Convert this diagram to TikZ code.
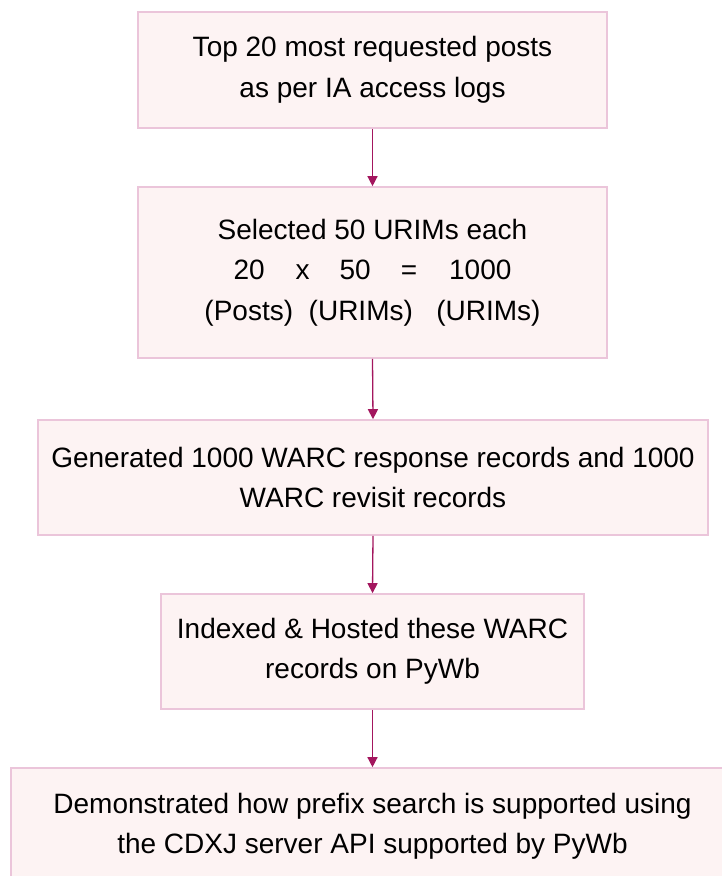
\documentclass[tikz,border=0pt]{standalone}
\usepackage{fontspec}
\setmainfont{Liberation Sans}
\usetikzlibrary{arrows.meta}
\definecolor{boxfill}{HTML}{FDF3F3}
\definecolor{boxline}{HTML}{EBC5DA}
\definecolor{arrowc}{HTML}{A3165E}
\tikzset{
  stepbox/.style={draw=boxline, fill=boxfill, line width=1.6pt, rectangle, align=center,
    inner sep=0pt, font=\fontsize{28}{40.5}\selectfont},
  flow/.style={draw=arrowc, line width=1.3pt, -{Triangle[length=10pt,width=10pt]}}
}
\begin{document}
\begin{tikzpicture}[x=1pt,y=-1pt]
\useasboundingbox (0,0) rectangle (722,876);
\node[stepbox, minimum width=469pt, minimum height=116pt] (a) at (372.5,70)
  {Top 20 most requested posts\\as per IA access logs};
\node[stepbox, minimum width=469pt, minimum height=171pt] (b) at (372.5,272.5)
  {Selected 50 URIMs each\\
   20\hspace{31pt}x\hspace{30pt}50\hspace{30pt}=\hspace{32pt}1000\\
   (Posts)\hspace{15.6pt}(URIMs)\hspace{23.4pt}(URIMs)};
\node[stepbox, minimum width=670pt, minimum height=115pt] (c) at (373,477.5)
  {Generated 1000 WARC response records and 1000\\WARC revisit records};
\node[stepbox, minimum width=423pt, minimum height=115pt] (d) at (372.5,651.5)
  {Indexed \& Hosted these WARC\\records on PyWb};
\node[stepbox, minimum width=723pt, minimum height=116pt] (e) at (372.5,826)
  {Demonstrated how prefix search is supported using\\the CDXJ server API supported by PyWb};
\draw[flow] (a.south) -- (b.north);
\draw[flow] (b.south) -- (c.north);
\draw[flow] (c.south) -- (d.north);
\draw[flow] (d.south) -- (e.north);
\end{tikzpicture}
\end{document}
